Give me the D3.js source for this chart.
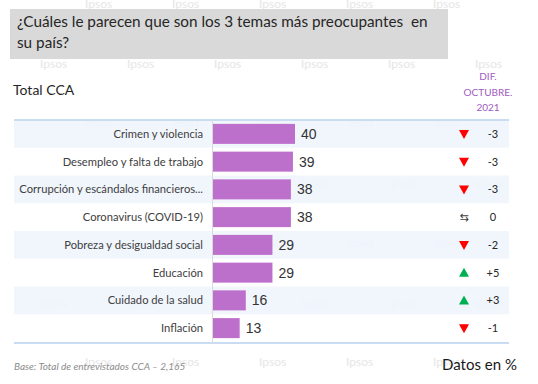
<!DOCTYPE html>
<html>
<head>
<meta charset="utf-8">
<script src="https://cdn.jsdelivr.net/npm/d3@7"></script>
<style>
  body { margin: 0; background: #fff; }
  svg { display: block; }
</style>
</head>
<body>
<div id="chart"></div>
<script>
// Data
var categories = ["Crimen y violencia", "Desempleo y falta de trabajo",
  "Corrupción y escándalos financieros...", "Coronavirus (COVID-19)",
  "Pobreza y desigualdad social", "Educación", "Cuidado de la salud", "Inflación"];
var values = [40, 39, 38, 38, 29, 29, 16, 13];
var diffs = [-3, -3, -3, 0, -2, 5, 3, -1];
var diffHeader = ["DIF.", "OCTUBRE.", "2021"];

var width = 538, height = 384;
var margin = {top: 120, bottom: 342, left: 213};

const svg = d3.select("#chart")
  .append("svg")
  .attr("width", width)
  .attr("height", height);

// Ipsos watermark pattern (faint)
var wm = svg.append("g");
for (var r = 0; r < 7; r++) {
  for (var c = 0; c < 6; c++) {
    var wx = (r % 2 == 0 ? 85 : 40) + c * 87;
    if (wx > 500) continue;
    wm.append("text")
      .attr("x", wx)
      .attr("y", 8 + r * 59.7)
      .style("font-family", "Lato, sans-serif")
      .style("font-size", "12px")
      .attr("fill", "#e6e6e6")
      .text("Ipsos");
  }
}

// Title box
svg.append("rect")
  .attr("x", 10).attr("y", 9)
  .attr("width", 438).attr("height", 50)
  .attr("fill", "#d9d9d9");
var titleLines = ["¿Cuáles le parecen que son los 3 temas más preocupantes  en", "su país?"];
svg.append("g").selectAll("text")
  .data(titleLines)
  .enter()
  .append("text")
    .attr("x", 17)
    .attr("y", function(d, i) { return 27 + i * 21; })
    .style("font-family", "Lato, sans-serif")
    .style("font-size", "15.3px")
    .style("white-space", "pre")
    .attr("fill", "#262626")
    .text(function(d) { return d; });

svg.append("text")
  .attr("x", 13).attr("y", 95)
  .style("font-family", "Lato, sans-serif")
  .style("font-size", "14px")
  .attr("fill", "#262626")
  .text("Total CCA");

// Scales
var y = d3.scaleBand()
  .domain(categories)
  .range([margin.top, margin.bottom]);

var x = d3.scaleLinear()
  .domain([0, 40])
  .range([margin.left, 295]);

// Row bands
svg.append("g").selectAll("rect")
  .data(categories)
  .enter()
  .append("rect")
    .attr("x", 14)
    .attr("y", function(d) { return y(d); })
    .attr("width", 495)
    .attr("height", y.bandwidth())
    .attr("fill", function(d, i) { return i % 2 == 0 ? "#eef5fd" : "#ffffff"; })
    .attr("fill-opacity", function(d, i) { return i % 2 == 0 ? 0.85 : 0.0; });

// Top / bottom rules
svg.append("line")
  .attr("x1", 14).attr("x2", 509)
  .attr("y1", margin.top).attr("y2", margin.top)
  .attr("stroke", "#c9dcf2").attr("stroke-width", 2);
svg.append("line")
  .attr("x1", 14).attr("x2", 509)
  .attr("y1", margin.bottom + 1).attr("y2", margin.bottom + 1)
  .attr("stroke", "#c9dcf2").attr("stroke-width", 2);

// Baseline
svg.append("line")
  .attr("x1", x(0) - 0.5).attr("x2", x(0) - 0.5)
  .attr("y1", margin.top).attr("y2", margin.bottom + 2)
  .attr("stroke", "#dadada").attr("stroke-width", 1);

// Category labels
svg.append("g").selectAll("text")
  .data(categories)
  .enter()
  .append("text")
    .attr("x", 203)
    .attr("y", function(d) { return y(d) + y.bandwidth() / 2 + 4; })
    .attr("text-anchor", "end")
    .style("font-family", "Lato, sans-serif")
    .style("font-size", "11.2px")
    .attr("fill", "#404040")
    .text(function(d) { return d; });

// Bars
var barH = 20;
svg.append("g").selectAll("rect")
  .data(values)
  .enter()
  .append("rect")
    .attr("x", x(0))
    .attr("y", function(d, i) { return y(categories[i]) + (y.bandwidth() - barH) / 2; })
    .attr("width", function(d) { return x(d) - x(0); })
    .attr("height", barH)
    .attr("fill", "#bd6fcc");

// Value labels
svg.append("g").selectAll("text")
  .data(values)
  .enter()
  .append("text")
    .attr("x", function(d) { return x(d) + 6; })
    .attr("y", function(d, i) { return y(categories[i]) + y.bandwidth() / 2 + 5; })
    .style("font-family", "Liberation Sans, Arial, sans-serif")
    .style("font-size", "14px")
    .attr("fill", "#333333")
    .text(function(d) { return d; });

// DIF header
svg.append("g").selectAll("text")
  .data(diffHeader)
  .enter()
  .append("text")
    .attr("x", 488)
    .attr("y", function(d, i) { return 80 + i * 15.5; })
    .attr("text-anchor", "middle")
    .style("font-family", "Lato, sans-serif")
    .style("font-size", "10px")
    .attr("fill", "#a05cc0")
    .text(function(d) { return d; });

// Change markers
var markers = svg.append("g").selectAll("g")
  .data(diffs)
  .enter()
  .append("g")
    .attr("transform", function(d, i) {
      return "translate(464," + (y(categories[i]) + y.bandwidth() / 2) + ")";
    });

markers.filter(function(d) { return d != 0; })
  .append("path")
    .attr("d", function(d) {
      return d < 0 ? "M-5,-4L5,-4L0,5Z" : "M-5,4L5,4L0,-5Z";
    })
    .attr("fill", function(d) { return d < 0 ? "#ff0000" : "#00b050"; });

markers.filter(function(d) { return d == 0; })
  .append("text")
    .attr("y", 4)
    .attr("text-anchor", "middle")
    .style("font-family", "DejaVu Sans, sans-serif")
    .style("font-size", "11px")
    .attr("fill", "#404040")
    .text("⇆");

markers.append("text")
  .attr("x", 29)
  .attr("y", 4)
  .attr("text-anchor", "middle")
  .style("font-family", "Lato, sans-serif")
  .style("font-size", "11px")
  .attr("fill", "#262626")
  .text(function(d) { return d > 0 ? "+" + d : d; });

// Footer
svg.append("text")
  .attr("x", 14).attr("y", 370)
  .style("font-family", "Lato, sans-serif")
  .style("font-size", "10px")
  .style("font-style", "italic")
  .attr("fill", "#8c8c8c")
  .text("Base: Total de entrevistados CCA – 2,165");

svg.append("text")
  .attr("x", 442).attr("y", 370)
  .style("font-family", "Lato, sans-serif")
  .style("font-size", "15px")
  .attr("fill", "#1a1a1a")
  .text("Datos en %");
</script>
</body>
</html>
